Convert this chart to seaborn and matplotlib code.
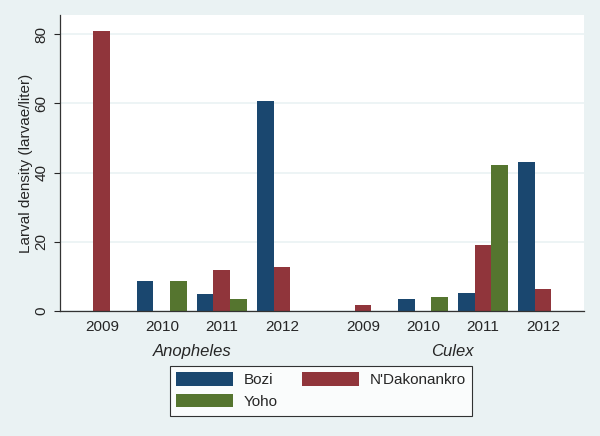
"""
Larval density by site, year and genus (Stata s2color look)
"""

import pandas as pd
import matplotlib.pyplot as plt
import seaborn as sns
from matplotlib.patches import Patch
from matplotlib.transforms import blended_transform_factory

years = ['2009', '2010', '2011', '2012']
species = ['Anopheles', 'Culex']
sites = ['Bozi', "N'Dakonankro", 'Yoho']

anopheles_bozi = [0, 8.7, 4.9, 60.7]
anopheles_ndakonankro = [81.0, 0, 11.8, 12.7]
anopheles_yoho = [0, 8.7, 3.5, 0]
culex_bozi = [0, 3.5, 5.3, 42.9]
culex_ndakonankro = [1.6, 0, 19.0, 6.3]
culex_yoho = [0, 4.1, 42.2, 0]

colors = {'Bozi': '#1a476f', "N'Dakonankro": '#90353b', 'Yoho': '#55752f'}
bg = '#eaf2f3'

# offset du second groupe (espace entre Anopheles et Culex)
species_offset = {'Anopheles': 0.0, 'Culex': 4.35}

series = {
    ('Anopheles', 'Bozi'): anopheles_bozi,
    ('Anopheles', "N'Dakonankro"): anopheles_ndakonankro,
    ('Anopheles', 'Yoho'): anopheles_yoho,
    ('Culex', 'Bozi'): culex_bozi,
    ('Culex', "N'Dakonankro"): culex_ndakonankro,
    ('Culex', 'Yoho'): culex_yoho,
}

rows = []
for (sp, site), vals in series.items():
    for i, (yr, v) in enumerate(zip(years, vals)):
        rows.append({'species': sp, 'site': site, 'year': yr,
                     'pos': species_offset[sp] + i, 'density': v})
df = pd.DataFrame(rows)

sns.set_style("white")
plt.rcParams['font.family'] = ['Liberation Sans', 'DejaVu Sans']

fig = plt.figure(figsize=(6, 4.36), dpi=100, facecolor=bg)
ax = fig.add_axes([59.5 / 600, 1 - 311 / 436, (584 - 59.5) / 600, (311 - 15) / 436])
ax.set_facecolor('white')

sns.barplot(data=df, x='pos', y='density', hue='site', hue_order=sites,
            palette=colors, native_scale=True, width=0.833, dodge=True,
            errorbar=None, saturation=1, linewidth=0, legend=False, ax=ax)

ax.set_xlim(-0.705, 8.035)
ax.set_ylim(0, 85.5)
ax.set_yticks([0, 20, 40, 60, 80])
ax.yaxis.grid(True, color=bg, linewidth=1.2)
ax.set_axisbelow(True)

positions = [species_offset[sp] + i for sp in species for i in range(len(years))]
ax.set_xticks(positions)
ax.set_xticklabels(years * len(species), fontsize=11)
ax.tick_params(axis='x', length=0, pad=6.5)
ax.tick_params(axis='y', length=4.3, width=0.8, pad=3.5, labelsize=11,
               labelrotation=90, left=True)
for lbl in ax.get_yticklabels():
    lbl.set_va('center')

for side in ['top', 'right']:
    ax.spines[side].set_visible(False)
for side in ['left', 'bottom']:
    ax.spines[side].set_color('#333333')
    ax.spines[side].set_linewidth(0.9)

ax.set_xlabel('')
ax.set_ylabel('Larval density (larvae/liter)', fontsize=11, labelpad=1)

trans = blended_transform_factory(ax.transData, fig.transFigure)
for sp in species:
    ax.text(species_offset[sp] + 1.5, 1 - 351 / 436, sp, transform=trans,
            ha='center', va='center', fontsize=12, style='italic')

handles = [Patch(facecolor=colors[s], edgecolor='none') for s in sites]
# ordre : Bozi, Yoho | N'Dakonankro (remplissage par colonne)
order = [0, 2, 1]
leg = fig.legend([handles[i] for i in order], [sites[i] for i in order],
                 loc='center', bbox_to_anchor=(321 / 600, 1 - 390.5 / 436),
                 ncol=2, fontsize=11, frameon=True, fancybox=False,
                 handlelength=3.7, handleheight=1.0, handletextpad=0.7,
                 columnspacing=1.6, labelspacing=0.4, borderpad=0.45)
leg.get_frame().set_edgecolor('black')
leg.get_frame().set_linewidth(0.8)

plt.savefig('out.png', dpi=100, facecolor=bg)
